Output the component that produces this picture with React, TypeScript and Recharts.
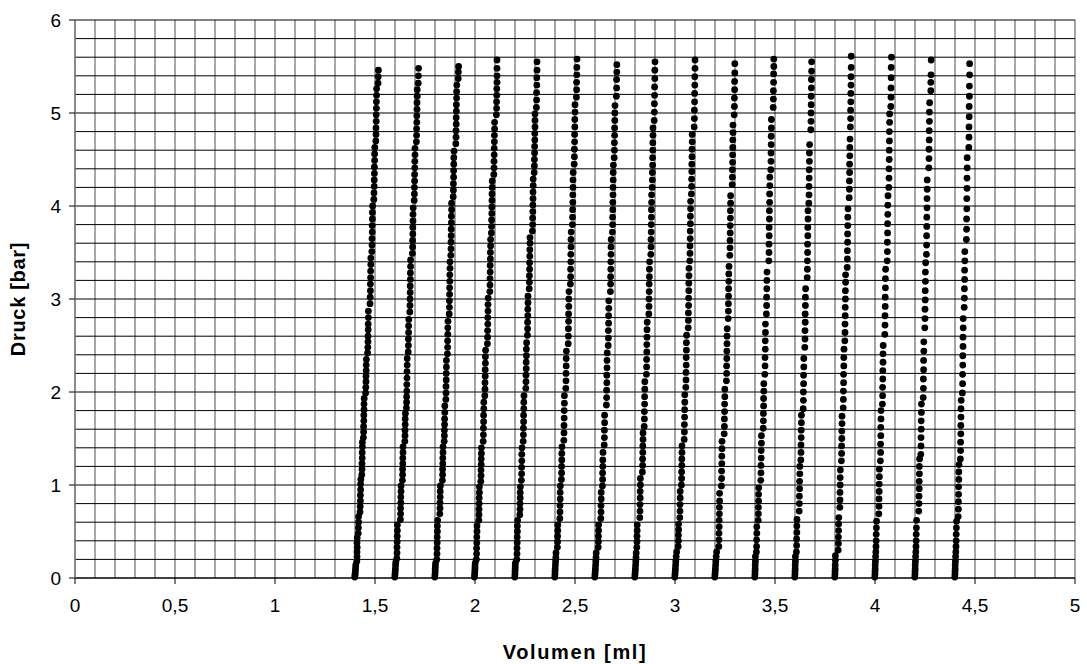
import { CartesianGrid, Label, Scatter, ScatterChart, XAxis, YAxis } from 'recharts';

// volume [ml] / pressure [bar] readings, one array per filling run
const run1: [number, number][] = [
  [1.399,0.01],[1.400,0.03],[1.401,0.05],[1.402,0.08],[1.403,0.11],[1.404,0.14],
  [1.409,0.18],[1.410,0.23],[1.410,0.28],[1.411,0.33],[1.410,0.38],[1.411,0.43],
  [1.416,0.48],[1.417,0.54],[1.418,0.60],[1.418,0.66],
  [1.425,0.71],[1.426,0.77],[1.427,0.83],[1.427,0.89],[1.428,0.95],[1.428,1.01],[1.429,1.06],
  [1.434,1.11],[1.435,1.17],[1.435,1.23],[1.436,1.29],[1.436,1.35],[1.437,1.41],[1.437,1.46],
  [1.442,1.51],[1.443,1.57],[1.443,1.63],[1.444,1.69],[1.444,1.75],[1.445,1.81],[1.445,1.87],[1.446,1.93],
  [1.453,1.99],[1.454,2.05],[1.455,2.11],[1.455,2.17],[1.456,2.23],[1.456,2.29],[1.457,2.35],
  [1.463,2.42],[1.464,2.48],[1.465,2.54],[1.465,2.60],[1.466,2.67],[1.466,2.73],[1.467,2.80],[1.467,2.87],
  [1.475,2.95],[1.476,3.02],[1.477,3.09],[1.477,3.16],[1.478,3.23],[1.478,3.30],[1.479,3.37],[1.479,3.44],
  [1.484,3.51],[1.485,3.58],[1.485,3.65],[1.486,3.72],[1.486,3.79],[1.487,3.86],[1.487,3.93],[1.488,4.00],
  [1.494,4.07],[1.495,4.14],[1.496,4.21],[1.496,4.28],[1.497,4.35],[1.497,4.42],[1.498,4.49],[1.498,4.56],[1.499,4.63],
  [1.504,4.70],[1.505,4.77],[1.505,4.84],[1.506,4.91],[1.506,4.98],[1.507,5.05],[1.507,5.12],[1.508,5.19],[1.508,5.26],
  [1.515,5.32],[1.516,5.39],[1.517,5.46],
];
const run2: [number, number][] = [
  [1.599,0.01],[1.600,0.04],[1.601,0.07],[1.602,0.10],[1.603,0.14],[1.604,0.17],
  [1.609,0.21],[1.610,0.27],[1.610,0.33],[1.611,0.39],[1.611,0.45],[1.612,0.51],[1.612,0.57],
  [1.627,0.63],[1.628,0.69],[1.628,0.75],[1.629,0.81],[1.629,0.87],[1.630,0.93],[1.630,0.99],
  [1.637,1.05],[1.638,1.11],[1.638,1.17],[1.639,1.23],[1.639,1.29],[1.640,1.35],[1.640,1.41],
  [1.649,1.47],[1.650,1.53],[1.650,1.59],[1.651,1.65],[1.651,1.71],[1.652,1.77],
  [1.657,1.83],[1.658,1.89],[1.658,1.95],[1.659,2.01],[1.659,2.08],[1.660,2.15],[1.660,2.22],[1.661,2.29],[1.661,2.36],
  [1.666,2.43],[1.667,2.50],[1.667,2.57],[1.668,2.64],[1.668,2.71],[1.669,2.78],
  [1.674,2.86],[1.675,2.93],[1.675,3.00],[1.676,3.07],[1.676,3.14],[1.677,3.21],[1.677,3.28],[1.678,3.35],[1.678,3.42],
  [1.687,3.49],[1.688,3.56],[1.688,3.63],[1.689,3.70],[1.689,3.77],[1.690,3.84],[1.690,3.91],[1.691,3.98],
  [1.696,4.06],[1.697,4.13],[1.697,4.20],[1.698,4.27],[1.698,4.34],[1.699,4.41],[1.699,4.48],[1.700,4.55],[1.700,4.62],
  [1.707,4.69],[1.708,4.76],[1.708,4.83],[1.709,4.90],[1.709,4.97],[1.710,5.04],[1.710,5.11],[1.711,5.18],[1.711,5.25],
  [1.716,5.32],[1.717,5.40],[1.718,5.48],
];
const run3: [number, number][] = [
  [1.799,0.01],[1.800,0.04],[1.801,0.07],[1.801,0.10],[1.802,0.13],[1.803,0.16],
  [1.809,0.20],[1.810,0.26],[1.810,0.32],[1.811,0.38],[1.811,0.44],[1.812,0.50],[1.812,0.56],[1.813,0.62],
  [1.824,0.69],[1.825,0.75],[1.825,0.81],[1.826,0.87],[1.826,0.93],[1.827,0.99],
  [1.837,1.05],[1.838,1.11],[1.838,1.17],[1.839,1.23],[1.839,1.29],[1.840,1.35],[1.840,1.41],
  [1.846,1.47],[1.847,1.53],[1.847,1.59],[1.848,1.65],[1.848,1.71],[1.849,1.78],[1.849,1.85],
  [1.854,1.92],[1.855,1.99],[1.855,2.06],[1.856,2.13],[1.856,2.20],[1.857,2.27],[1.857,2.34],
  [1.862,2.41],[1.863,2.48],[1.863,2.55],[1.864,2.62],[1.864,2.69],[1.865,2.76],
  [1.871,2.84],[1.872,2.91],[1.872,2.98],[1.873,3.05],[1.873,3.12],[1.874,3.19],[1.874,3.26],[1.875,3.33],[1.875,3.40],
  [1.879,3.47],[1.880,3.54],[1.880,3.61],[1.881,3.68],[1.881,3.75],[1.882,3.82],[1.882,3.89],[1.883,3.96],[1.883,4.03],
  [1.891,4.10],[1.892,4.17],[1.892,4.24],[1.893,4.31],[1.893,4.38],[1.894,4.45],[1.894,4.52],[1.895,4.59],
  [1.904,4.67],[1.905,4.74],[1.905,4.81],[1.906,4.88],[1.906,4.95],[1.907,5.02],[1.907,5.09],[1.908,5.16],[1.908,5.23],[1.909,5.30],
  [1.916,5.37],[1.917,5.44],[1.918,5.50],
];
const run4: [number, number][] = [
  [1.997,0.01],[1.998,0.04],[1.999,0.07],[2.000,0.10],[2.000,0.13],[2.001,0.16],
  [2.007,0.20],[2.008,0.26],[2.008,0.32],[2.009,0.38],[2.009,0.44],[2.010,0.50],[2.010,0.56],
  [2.019,0.62],[2.020,0.68],[2.020,0.74],[2.021,0.80],[2.021,0.86],[2.022,0.92],[2.022,0.98],
  [2.029,1.04],[2.030,1.10],[2.030,1.16],[2.031,1.22],[2.031,1.28],[2.032,1.34],[2.032,1.40],
  [2.041,1.47],[2.042,1.54],[2.042,1.61],[2.043,1.68],[2.043,1.75],[2.044,1.82],[2.044,1.89],
  [2.049,1.96],[2.050,2.03],[2.050,2.10],[2.051,2.17],[2.051,2.24],[2.052,2.31],[2.052,2.38],[2.053,2.45],
  [2.062,2.52],[2.063,2.59],[2.063,2.66],[2.064,2.73],[2.064,2.80],[2.065,2.87],[2.065,2.94],[2.066,3.01],
  [2.074,3.08],[2.075,3.15],[2.075,3.22],[2.076,3.29],[2.076,3.36],[2.077,3.43],[2.077,3.50],[2.078,3.57],[2.078,3.64],
  [2.082,3.71],[2.083,3.78],[2.083,3.85],[2.084,3.92],[2.084,3.99],[2.085,4.06],[2.085,4.13],[2.086,4.20],[2.086,4.27],
  [2.094,4.34],[2.095,4.41],[2.095,4.48],[2.096,4.55],[2.096,4.62],[2.097,4.69],[2.097,4.76],[2.098,4.83],[2.098,4.90],
  [2.107,4.98],[2.108,5.05],[2.108,5.12],[2.109,5.19],[2.109,5.26],[2.110,5.33],[2.110,5.40],[2.110,5.48],[2.110,5.57],
];
const run5: [number, number][] = [
  [2.199,0.01],[2.200,0.04],[2.200,0.07],[2.201,0.10],[2.201,0.13],[2.202,0.16],
  [2.209,0.20],[2.210,0.26],[2.210,0.32],[2.211,0.38],[2.211,0.44],[2.212,0.50],[2.212,0.56],[2.213,0.62],
  [2.224,0.68],[2.225,0.74],[2.225,0.80],[2.226,0.86],[2.226,0.92],[2.227,0.98],
  [2.232,1.05],[2.233,1.12],[2.233,1.19],[2.234,1.26],[2.234,1.33],[2.235,1.40],
  [2.241,1.47],[2.242,1.54],[2.242,1.61],[2.243,1.68],[2.243,1.75],[2.244,1.82],[2.244,1.89],[2.245,1.96],
  [2.254,2.04],[2.255,2.11],[2.255,2.18],[2.256,2.25],[2.256,2.32],[2.257,2.39],[2.257,2.46],[2.258,2.53],
  [2.262,2.61],[2.263,2.68],[2.263,2.75],[2.264,2.82],[2.264,2.89],[2.265,2.96],[2.265,3.03],
  [2.271,3.11],[2.272,3.18],[2.272,3.25],[2.273,3.32],[2.273,3.39],[2.274,3.46],[2.274,3.53],[2.275,3.60],[2.275,3.66],
  [2.287,3.73],[2.288,3.80],[2.288,3.87],[2.289,3.94],[2.289,4.01],[2.290,4.08],[2.290,4.15],[2.291,4.22],[2.291,4.29],
  [2.296,4.36],[2.297,4.43],[2.297,4.50],[2.298,4.57],[2.298,4.64],[2.299,4.71],[2.299,4.78],[2.300,4.85],[2.300,4.92],[2.300,4.99],
  [2.307,5.06],[2.308,5.14],[2.308,5.22],[2.309,5.30],[2.309,5.38],[2.310,5.46],[2.310,5.55],
];
const run6: [number, number][] = [
  [2.399,0.01],[2.400,0.04],[2.400,0.07],[2.401,0.10],[2.402,0.14],[2.403,0.18],[2.404,0.22],[2.405,0.27],
  [2.412,0.33],[2.413,0.39],[2.413,0.45],[2.414,0.51],[2.414,0.57],
  [2.424,0.64],[2.425,0.71],[2.425,0.78],[2.426,0.85],[2.426,0.92],[2.427,0.99],
  [2.432,1.06],[2.433,1.13],[2.433,1.20],[2.434,1.27],[2.434,1.34],[2.435,1.41],
  [2.444,1.48],[2.445,1.56],[2.445,1.64],[2.446,1.72],[2.446,1.80],[2.447,1.88],[2.447,1.96],
  [2.454,2.04],[2.455,2.12],[2.455,2.20],[2.456,2.28],[2.456,2.36],[2.457,2.44],
  [2.466,2.52],[2.467,2.60],[2.467,2.68],[2.468,2.76],[2.468,2.84],[2.469,2.92],[2.469,3.00],[2.470,3.08],
  [2.477,3.16],[2.478,3.24],[2.478,3.32],[2.479,3.40],[2.479,3.48],[2.480,3.56],[2.480,3.64],[2.481,3.72],
  [2.487,3.80],[2.488,3.88],[2.488,3.96],[2.489,4.04],[2.489,4.12],[2.490,4.20],[2.490,4.28],[2.491,4.36],
  [2.496,4.45],[2.497,4.53],[2.497,4.61],[2.498,4.69],[2.498,4.77],[2.499,4.85],[2.499,4.93],[2.500,5.01],[2.500,5.09],
  [2.507,5.17],[2.508,5.25],[2.508,5.33],[2.509,5.41],[2.509,5.49],[2.510,5.58],
];
const run7: [number, number][] = [
  [2.599,0.01],[2.600,0.04],[2.601,0.07],[2.602,0.10],[2.603,0.14],[2.604,0.18],[2.605,0.22],[2.606,0.27],
  [2.616,0.33],[2.617,0.39],[2.617,0.45],[2.618,0.51],[2.618,0.57],
  [2.629,0.64],[2.630,0.71],[2.630,0.78],[2.631,0.85],[2.631,0.92],
  [2.637,0.99],[2.638,1.06],[2.638,1.13],[2.639,1.20],[2.639,1.27],[2.640,1.35],
  [2.646,1.43],[2.647,1.51],[2.647,1.59],[2.648,1.67],[2.648,1.75],
  [2.657,1.86],[2.658,1.94],[2.658,2.02],[2.659,2.10],[2.659,2.18],[2.660,2.26],[2.660,2.34],[2.661,2.42],
  [2.666,2.50],[2.667,2.58],[2.667,2.66],[2.668,2.74],[2.668,2.82],[2.669,2.90],[2.669,2.98],
  [2.677,3.08],[2.678,3.16],[2.678,3.24],[2.679,3.32],[2.679,3.40],[2.680,3.48],[2.680,3.56],[2.681,3.64],
  [2.687,3.72],[2.688,3.80],[2.688,3.88],[2.689,3.96],[2.689,4.04],[2.690,4.12],[2.690,4.20],[2.691,4.28],[2.691,4.36],[2.692,4.44],
  [2.696,4.52],[2.697,4.60],[2.697,4.68],[2.698,4.76],[2.698,4.84],[2.699,4.92],[2.699,5.00],[2.700,5.08],
  [2.707,5.18],[2.708,5.27],[2.708,5.36],[2.709,5.44],[2.709,5.52],
];
const run8: [number, number][] = [
  [2.799,0.01],[2.800,0.04],[2.801,0.07],[2.802,0.10],[2.803,0.14],[2.804,0.18],[2.805,0.22],[2.806,0.27],
  [2.809,0.33],[2.810,0.39],[2.810,0.45],[2.811,0.51],[2.811,0.57],
  [2.824,0.65],[2.825,0.72],[2.825,0.79],[2.826,0.86],[2.826,0.93],[2.827,1.00],[2.827,1.07],
  [2.837,1.14],[2.838,1.21],[2.838,1.28],[2.839,1.35],[2.839,1.42],[2.840,1.49],[2.840,1.56],
  [2.846,1.63],[2.847,1.71],[2.847,1.79],[2.848,1.87],[2.848,1.95],[2.849,2.03],[2.849,2.11],
  [2.857,2.19],[2.858,2.27],[2.858,2.35],[2.859,2.43],[2.859,2.51],[2.860,2.59],[2.860,2.67],[2.861,2.75],
  [2.869,2.84],[2.870,2.92],[2.870,3.00],[2.871,3.08],[2.871,3.16],[2.872,3.24],[2.872,3.32],[2.873,3.40],
  [2.879,3.48],[2.880,3.56],[2.880,3.64],[2.881,3.72],[2.881,3.80],[2.882,3.88],[2.882,3.96],[2.883,4.04],[2.883,4.12],
  [2.886,4.20],[2.887,4.28],[2.887,4.36],[2.888,4.44],[2.888,4.52],[2.889,4.60],[2.889,4.68],[2.890,4.76],[2.890,4.84],
  [2.896,4.92],[2.897,5.01],[2.897,5.10],[2.898,5.19],[2.898,5.28],[2.899,5.37],[2.899,5.46],[2.900,5.55],
];
const run9: [number, number][] = [
  [2.999,0.01],[3.000,0.04],[3.001,0.07],[3.002,0.10],[3.003,0.14],[3.004,0.18],[3.006,0.23],[3.008,0.28],
  [3.016,0.34],[3.017,0.40],[3.017,0.46],[3.018,0.52],[3.018,0.58],
  [3.024,0.65],[3.025,0.72],[3.025,0.79],[3.026,0.86],[3.026,0.93],
  [3.032,1.00],[3.033,1.07],[3.033,1.14],[3.034,1.21],[3.034,1.28],[3.035,1.35],[3.035,1.42],
  [3.046,1.49],[3.047,1.57],[3.047,1.65],[3.048,1.73],[3.048,1.81],[3.049,1.89],[3.049,1.97],
  [3.054,2.05],[3.055,2.13],[3.055,2.21],[3.056,2.29],[3.056,2.37],[3.057,2.45],[3.057,2.53],[3.058,2.61],
  [3.066,2.69],[3.067,2.77],[3.067,2.85],[3.068,2.93],[3.068,3.01],[3.069,3.09],[3.069,3.17],[3.070,3.25],[3.070,3.33],
  [3.074,3.41],[3.075,3.49],[3.075,3.57],[3.076,3.65],[3.076,3.73],[3.077,3.81],[3.077,3.89],[3.078,3.97],[3.078,4.05],
  [3.082,4.13],[3.083,4.21],[3.083,4.29],[3.084,4.37],[3.084,4.45],[3.085,4.53],[3.085,4.61],[3.086,4.69],[3.086,4.77],
  [3.096,4.85],[3.097,4.94],[3.097,5.03],[3.098,5.12],[3.098,5.21],[3.099,5.30],[3.099,5.39],[3.100,5.48],[3.100,5.57],
];
const run10: [number, number][] = [
  [3.199,0.01],[3.200,0.04],[3.201,0.07],[3.202,0.10],[3.203,0.14],[3.204,0.18],[3.206,0.23],[3.208,0.28],
  [3.219,0.34],[3.220,0.41],[3.220,0.48],[3.221,0.55],[3.221,0.62],[3.222,0.69],[3.222,0.76],[3.223,0.83],[3.223,0.91],
  [3.232,0.99],[3.233,1.07],[3.233,1.15],[3.234,1.23],[3.234,1.31],[3.235,1.39],[3.235,1.47],
  [3.246,1.55],[3.247,1.63],[3.247,1.71],[3.248,1.79],[3.248,1.87],[3.249,1.95],[3.249,2.03],
  [3.257,2.12],[3.258,2.20],[3.258,2.28],[3.259,2.36],[3.259,2.44],[3.260,2.52],[3.260,2.60],[3.261,2.68],
  [3.266,2.79],[3.267,2.87],[3.267,2.95],[3.268,3.03],[3.268,3.11],[3.269,3.19],[3.269,3.27],[3.270,3.35],
  [3.274,3.47],[3.275,3.55],[3.275,3.63],[3.276,3.71],[3.276,3.79],[3.277,3.87],[3.277,3.95],[3.278,4.03],[3.278,4.11],
  [3.286,4.23],[3.287,4.31],[3.287,4.39],[3.288,4.47],[3.288,4.55],[3.289,4.63],[3.289,4.71],[3.290,4.79],[3.290,4.87],
  [3.296,4.98],[3.297,5.07],[3.297,5.16],[3.298,5.25],[3.298,5.34],[3.299,5.43],[3.299,5.53],
];
const run11: [number, number][] = [
  [3.399,0.01],[3.400,0.04],[3.400,0.07],[3.401,0.10],[3.401,0.14],[3.402,0.18],[3.402,0.23],
  [3.407,0.28],[3.408,0.34],[3.408,0.41],[3.409,0.48],[3.409,0.55],
  [3.416,0.62],[3.417,0.69],[3.417,0.76],[3.418,0.83],[3.418,0.90],[3.419,0.97],
  [3.429,1.05],[3.430,1.13],[3.430,1.21],[3.431,1.29],[3.431,1.37],[3.432,1.45],[3.432,1.53],
  [3.441,1.61],[3.442,1.69],[3.442,1.77],[3.443,1.85],[3.443,1.93],[3.444,2.01],[3.444,2.09],
  [3.449,2.19],[3.450,2.28],[3.450,2.37],[3.451,2.46],[3.451,2.55],[3.452,2.64],[3.452,2.73],
  [3.457,2.84],[3.458,2.93],[3.458,3.02],[3.459,3.11],[3.459,3.20],[3.460,3.29],
  [3.469,3.41],[3.470,3.50],[3.470,3.59],[3.471,3.68],[3.471,3.77],[3.472,3.86],[3.472,3.95],[3.473,4.04],[3.473,4.13],[3.474,4.22],[3.474,4.31],
  [3.479,4.39],[3.480,4.48],[3.480,4.57],[3.481,4.66],[3.481,4.75],[3.482,4.84],[3.482,4.93],
  [3.491,5.06],[3.492,5.15],[3.492,5.24],[3.493,5.33],[3.493,5.42],[3.494,5.50],[3.494,5.58],
];
const run12: [number, number][] = [
  [3.599,0.01],[3.600,0.04],[3.600,0.07],[3.601,0.10],[3.601,0.14],[3.602,0.18],[3.602,0.23],
  [3.607,0.28],[3.608,0.35],[3.608,0.42],[3.609,0.49],[3.609,0.56],[3.610,0.63],
  [3.621,0.72],[3.622,0.80],[3.622,0.88],[3.623,0.96],[3.623,1.04],[3.624,1.12],[3.624,1.20],
  [3.629,1.27],[3.630,1.35],[3.630,1.43],[3.631,1.51],[3.631,1.59],[3.632,1.67],[3.632,1.75],
  [3.641,1.82],[3.642,1.91],[3.642,2.00],[3.643,2.09],[3.643,2.18],[3.644,2.27],[3.644,2.36],
  [3.649,2.48],[3.650,2.57],[3.650,2.66],[3.651,2.75],[3.651,2.84],[3.652,2.93],[3.652,3.02],[3.653,3.11],
  [3.661,3.23],[3.662,3.32],[3.662,3.41],[3.663,3.50],[3.663,3.59],[3.664,3.68],[3.664,3.77],[3.665,3.86],[3.665,3.95],
  [3.669,4.03],[3.670,4.12],[3.670,4.21],[3.671,4.30],[3.671,4.39],[3.672,4.48],[3.672,4.57],[3.673,4.66],
  [3.679,4.82],[3.680,4.91],[3.680,5.00],[3.681,5.09],[3.681,5.18],[3.682,5.27],[3.682,5.36],[3.683,5.45],[3.683,5.55],
];
const run13: [number, number][] = [
  [3.799,0.01],[3.800,0.04],[3.800,0.07],[3.801,0.10],[3.801,0.14],[3.802,0.19],[3.802,0.24],
  [3.816,0.30],[3.817,0.37],[3.817,0.44],[3.818,0.51],[3.818,0.58],[3.819,0.65],
  [3.824,0.76],[3.825,0.84],[3.825,0.92],[3.826,1.00],[3.826,1.08],[3.827,1.16],
  [3.832,1.26],[3.833,1.34],[3.833,1.42],[3.834,1.50],[3.834,1.58],[3.835,1.66],[3.835,1.74],
  [3.841,1.83],[3.842,1.92],[3.842,2.01],[3.843,2.10],[3.843,2.19],[3.844,2.28],[3.844,2.37],[3.845,2.46],
  [3.849,2.55],[3.850,2.64],[3.850,2.73],[3.851,2.82],[3.851,2.91],[3.852,3.00],[3.852,3.09],[3.853,3.18],[3.853,3.26],
  [3.861,3.34],[3.862,3.43],[3.862,3.52],[3.863,3.61],[3.863,3.70],[3.864,3.79],[3.864,3.88],[3.865,3.97],
  [3.871,4.09],[3.872,4.18],[3.872,4.27],[3.873,4.36],[3.873,4.45],[3.874,4.54],[3.874,4.63],[3.875,4.72],
  [3.877,4.85],[3.878,4.94],[3.878,5.03],[3.879,5.12],[3.879,5.21],[3.880,5.30],[3.880,5.39],[3.881,5.49],[3.881,5.61],
];
const run14: [number, number][] = [
  [3.999,0.01],[4.000,0.04],[4.000,0.07],[4.001,0.10],[4.001,0.14],[4.002,0.18],[4.003,0.23],[4.004,0.28],[4.005,0.34],[4.006,0.40],[4.006,0.47],[4.007,0.54],[4.008,0.61],
  [4.019,0.69],[4.020,0.77],[4.020,0.85],[4.021,0.93],[4.021,1.01],[4.022,1.09],[4.022,1.17],
  [4.027,1.26],[4.028,1.35],[4.028,1.44],[4.029,1.53],[4.029,1.62],[4.030,1.71],[4.030,1.80],
  [4.037,1.87],[4.038,1.96],[4.038,2.05],[4.039,2.14],[4.039,2.23],[4.040,2.32],[4.040,2.41],[4.041,2.50],
  [4.049,2.62],[4.050,2.72],[4.050,2.82],[4.051,2.92],[4.051,3.02],[4.052,3.12],[4.052,3.22],[4.053,3.32],
  [4.061,3.41],[4.062,3.51],[4.062,3.61],[4.063,3.71],[4.063,3.81],[4.064,3.91],[4.064,4.01],[4.065,4.11],
  [4.069,4.20],[4.070,4.30],[4.070,4.40],[4.071,4.50],[4.071,4.60],[4.072,4.70],[4.072,4.80],[4.073,4.90],[4.073,4.99],
  [4.079,5.07],[4.080,5.17],[4.080,5.27],[4.081,5.38],[4.081,5.49],[4.082,5.60],
];
const run15: [number, number][] = [
  [4.199,0.01],[4.200,0.04],[4.200,0.07],[4.201,0.10],[4.201,0.14],[4.202,0.18],[4.203,0.23],[4.204,0.28],[4.205,0.34],[4.206,0.40],[4.206,0.47],[4.207,0.54],[4.208,0.62],
  [4.219,0.72],[4.220,0.80],[4.220,0.88],[4.221,0.96],[4.221,1.04],[4.222,1.12],[4.222,1.20],[4.223,1.28],
  [4.229,1.33],[4.230,1.42],[4.230,1.51],[4.231,1.60],[4.231,1.69],[4.232,1.78],[4.232,1.87],
  [4.241,1.94],[4.242,2.04],[4.242,2.14],[4.243,2.24],[4.243,2.34],[4.244,2.44],[4.244,2.54],
  [4.249,2.69],[4.250,2.79],[4.250,2.89],[4.251,2.99],[4.251,3.09],[4.252,3.19],[4.252,3.29],[4.253,3.39],
  [4.257,3.48],[4.258,3.58],[4.258,3.68],[4.259,3.78],[4.259,3.88],[4.260,3.98],[4.260,4.08],[4.261,4.18],[4.261,4.28],
  [4.269,4.41],[4.270,4.51],[4.270,4.61],[4.271,4.71],[4.271,4.81],[4.272,4.91],[4.272,5.01],[4.273,5.11],
  [4.279,5.24],[4.279,5.33],[4.280,5.41],[4.281,5.57],
];
const run16: [number, number][] = [
  [4.399,0.01],[4.400,0.04],[4.400,0.07],[4.401,0.10],[4.401,0.14],[4.402,0.18],[4.403,0.23],[4.404,0.28],[4.405,0.34],[4.406,0.40],[4.406,0.47],[4.407,0.54],[4.408,0.61],
  [4.416,0.66],[4.417,0.74],[4.417,0.82],[4.418,0.90],[4.418,0.98],[4.419,1.06],[4.419,1.14],[4.420,1.22],
  [4.427,1.28],[4.428,1.37],[4.428,1.46],[4.429,1.55],[4.429,1.64],[4.430,1.73],[4.430,1.82],[4.431,1.91],
  [4.437,1.99],[4.438,2.09],[4.438,2.19],[4.439,2.29],[4.439,2.39],[4.440,2.49],[4.440,2.59],[4.441,2.69],[4.441,2.79],
  [4.446,2.91],[4.447,3.01],[4.447,3.11],[4.448,3.21],[4.448,3.31],[4.449,3.41],[4.449,3.51],
  [4.457,3.64],[4.458,3.75],[4.458,3.86],[4.459,3.97],[4.459,4.08],[4.460,4.19],[4.460,4.30],[4.461,4.41],[4.461,4.52],
  [4.469,4.63],[4.470,4.74],[4.470,4.85],[4.471,4.96],[4.471,5.07],[4.472,5.18],[4.472,5.29],[4.473,5.41],[4.473,5.53],
];

const runs = [run1, run2, run3, run4, run5, run6, run7, run8, run9, run10, run11, run12, run13, run14, run15, run16];

const xTicks = [0, 0.5, 1, 1.5, 2, 2.5, 3, 3.5, 4, 4.5, 5];
const yTicks = [0, 1, 2, 3, 4, 5, 6];
const xGrid = [
  0, 0.1, 0.2, 0.3, 0.4, 0.5, 0.6, 0.7, 0.8, 0.9, 1, 1.1, 1.2, 1.3, 1.4, 1.5, 1.6, 1.7, 1.8, 1.9,
  2, 2.1, 2.2, 2.3, 2.4, 2.5, 2.6, 2.7, 2.8, 2.9, 3, 3.1, 3.2, 3.3, 3.4, 3.5, 3.6, 3.7, 3.8, 3.9,
  4, 4.1, 4.2, 4.3, 4.4, 4.5, 4.6, 4.7, 4.8, 4.9, 5,
];
const yGrid = [
  0, 0.2, 0.4, 0.6, 0.8, 1, 1.2, 1.4, 1.6, 1.8, 2, 2.2, 2.4, 2.6, 2.8, 3, 3.2, 3.4, 3.6, 3.8,
  4, 4.2, 4.4, 4.6, 4.8, 5, 5.2, 5.4, 5.6, 5.8, 6,
];

const font = 'Arial, "Liberation Sans", sans-serif';
const tickStyle = { fill: '#000', fontSize: 19, fontFamily: font };
const comma = (v: number) => String(v).replace('.', ',');

const Dot = (props: any) => <circle cx={props.cx} cy={props.cy} r={3.4} fill="#000" />;

export default function App() {
  return (
    <div>
      <style>{'body{margin:0;background:#fff}'}</style>
      <ScatterChart width={1087} height={664} margin={{ top: 20, right: 12, bottom: 0, left: 0 }}>
        <CartesianGrid horizontal={false} verticalValues={xGrid} stroke="#808080" strokeWidth={1.4} />
        <CartesianGrid vertical={false} horizontalValues={yGrid} stroke="#000" strokeWidth={1} />
        <XAxis
          type="number"
          dataKey="v"
          domain={[0, 5]}
          ticks={xTicks}
          tickFormatter={comma}
          height={86}
          tickSize={6}
          tickMargin={15}
          tick={tickStyle}
          stroke="#000"
          interval={0}
        >
          <Label
            value="Volumen [ml]"
            position="insideBottom"
            offset={5}
            style={{ fontSize: 20, fontWeight: 'bold', fontFamily: font, fill: '#000', letterSpacing: 1.6 }}
          />
        </XAxis>
        <YAxis
          type="number"
          dataKey="p"
          domain={[0, 6]}
          ticks={yTicks}
          width={75}
          tickSize={6}
          tickMargin={8}
          tick={tickStyle}
          stroke="#000"
          axisLine={{ stroke: '#808080', strokeWidth: 1.4 }}
          interval={0}
        >
          <Label
            value="Druck [bar]"
            angle={-90}
            position="insideLeft"
            offset={18}
            style={{ fontSize: 20, fontWeight: 'bold', fontFamily: font, fill: '#000', letterSpacing: 0.7, textAnchor: 'middle' }}
          />
        </YAxis>
        {runs.map((run, i) => (
          <Scatter
            key={i}
            data={run.map(([v, p]) => ({ v, p }))}
            shape={Dot}
            isAnimationActive={false}
          />
        ))}
      </ScatterChart>
    </div>
  );
}
